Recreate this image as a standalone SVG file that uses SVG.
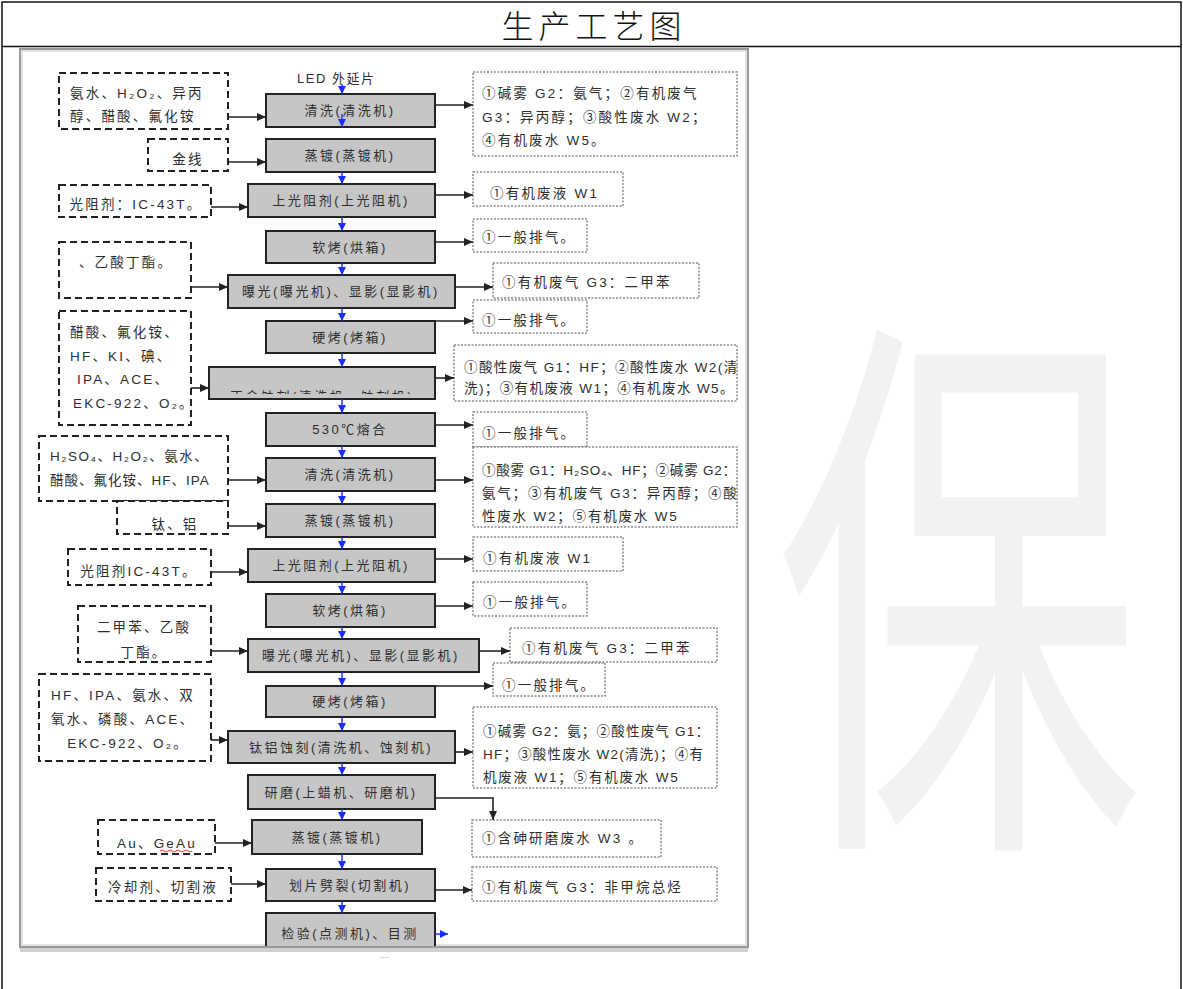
<svg xmlns="http://www.w3.org/2000/svg" width="1183" height="989" viewBox="0 0 1183 989">
<style>
.wm{font-family:"Noto Sans CJK SC",sans-serif;fill:#f2f2f2;}
.title{font-family:"Noto Sans CJK SC","Liberation Sans",sans-serif;font-size:32px;font-weight:300;fill:#111;letter-spacing:5px;}
.box rect{fill:#c6c6c6;stroke:#222;stroke-width:2;}
.box text{font-family:"Liberation Sans","Noto Sans CJK SC",sans-serif;font-size:13px;fill:#2e2e2e;letter-spacing:2.5px;text-anchor:middle;}
.in rect{fill:#fff;stroke:#222;stroke-width:2;stroke-dasharray:7 4;}
.out rect{fill:#fff;stroke:#8a8a8a;stroke-width:1.5;stroke-dasharray:2 1.5;}
.t{font-family:"Liberation Sans","Noto Sans CJK SC",sans-serif;font-size:13.5px;fill:#2e2e2e;letter-spacing:2.2px;}
.o{letter-spacing:1.8px;}
.c{text-anchor:middle;}
.blk{stroke:#222;stroke-width:1.6;fill:none;marker-end:url(#ab);}
.blu{stroke:#1a2cff;stroke-width:1.4;fill:none;marker-end:url(#au);}
</style>
<defs>
<marker id="ab" markerWidth="9" markerHeight="8" refX="9" refY="4" orient="auto" markerUnits="userSpaceOnUse"><path d="M0,0 L9,4 L0,8 z" fill="#222"/></marker>
<marker id="au" markerWidth="8" markerHeight="8" refX="8" refY="4" orient="auto" markerUnits="userSpaceOnUse"><path d="M0,0 L8,4 L0,8 z" fill="#1a2cff"/></marker>
<clipPath id="clip7"><rect x="209" y="367" width="226" height="27"/></clipPath>
</defs>
<rect width="1183" height="989" fill="#fff"/>
<!-- watermark -->
<g id="watermark">
<text class="wm" font-size="400" transform="translate(775,805) scale(0.92,1.42)">保</text>
</g>
<!-- table frame -->
<g id="table" fill="none" stroke="#111" stroke-width="1.5">
<rect x="2" y="2" width="1179" height="995"/>
<line x1="2" y1="46.5" x2="1181" y2="46.5"/>
</g>
<text class="title" x="594" y="38" text-anchor="middle">生产工艺图</text>
<!-- picture frame -->
<g id="frame">
<rect x="20" y="49" width="728" height="898" fill="#fff" stroke="#9a9a9a" stroke-width="2"/>
<rect x="22" y="51" width="724" height="894" fill="none" stroke="#e2e2e2" stroke-width="2"/>
<line x1="20" y1="950" x2="748" y2="950" stroke="#d0d0d0" stroke-width="4"/>
<text x="380" y="958" font-family="Liberation Sans,sans-serif" font-size="8" fill="#888">....</text>
</g>
<text class="t" x="297" y="83" style="font-size:13px;letter-spacing:1.5px">LED 外延片</text>
<!-- process nodes -->
<g id="n1" class="box"><rect x="266" y="94" width="169" height="33"/><text x="350" y="115">清洗(清洗机)</text></g>
<g id="n2" class="box"><rect x="266" y="139" width="169" height="33"/><text x="350" y="160">蒸镀(蒸镀机)</text></g>
<g id="n3" class="box"><rect x="248" y="184" width="187" height="33"/><text x="341" y="205">上光阻剂(上光阻机)</text></g>
<g id="n4" class="box"><rect x="266" y="231" width="169" height="32"/><text x="350" y="252">软烤(烘箱)</text></g>
<g id="n5" class="box"><rect x="228" y="275" width="227" height="33"/><text x="341" y="296">曝光(曝光机)、显影(显影机)</text></g>
<g id="n6" class="box"><rect x="266" y="321" width="169" height="32"/><text x="350" y="342">硬烤(烤箱)</text></g>
<g id="n7" class="box"><rect x="209" y="367" width="226" height="32"/><text x="322" y="401" clip-path="url(#clip7)">正金蚀刻(清洗机、蚀刻机)</text></g>
<g id="n8" class="box"><rect x="266" y="413" width="169" height="33"/><text x="350" y="434">530℃熔合</text></g>
<g id="n9" class="box"><rect x="266" y="458" width="169" height="33"/><text x="350" y="479">清洗(清洗机)</text></g>
<g id="n10" class="box"><rect x="266" y="504" width="169" height="33"/><text x="350" y="525">蒸镀(蒸镀机)</text></g>
<g id="n11" class="box"><rect x="248" y="549" width="187" height="33"/><text x="341" y="570">上光阻剂(上光阻机)</text></g>
<g id="n12" class="box"><rect x="266" y="594" width="169" height="33"/><text x="350" y="615">软烤(烘箱)</text></g>
<g id="n13" class="box"><rect x="248" y="639" width="231" height="33"/><text x="361" y="660">曝光(曝光机)、显影(显影机)</text></g>
<g id="n14" class="box"><rect x="266" y="686" width="169" height="31"/><text x="350" y="706">硬烤(烤箱)</text></g>
<g id="n15" class="box"><rect x="228" y="731" width="227" height="32"/><text x="341" y="752">钛铝蚀刻(清洗机、蚀刻机)</text></g>
<g id="n16" class="box"><rect x="248" y="775" width="187" height="34"/><text x="341" y="797">研磨(上蜡机、研磨机)</text></g>
<g id="n17" class="box"><rect x="252" y="820" width="170" height="34"/><text x="337" y="842">蒸镀(蒸镀机)</text></g>
<g id="n18" class="box"><rect x="266" y="869" width="169" height="32"/><text x="350" y="890">划片劈裂(切割机)</text></g>
<g id="n19" class="box"><path d="M266,946 V913 H435 V946" fill="#c6c6c6" stroke="#222" stroke-width="2"/><text x="350" y="938">检验(点测机)、目测</text></g>
<!-- input materials -->
<g id="in1" class="in"><rect x="59" y="73" width="169" height="56"/><text class="t" x="70" y="98">氨水、H₂O₂、异丙</text><text class="t" x="70" y="121">醇、醋酸、氟化铵</text></g>
<g id="in2" class="in"><rect x="148" y="139" width="80" height="32"/><text class="t c" x="188" y="164">金线</text></g>
<g id="in3" class="in"><rect x="59" y="185" width="152" height="32"/><text class="t c" x="136" y="209">光阻剂：IC-43T。</text></g>
<g id="in4" class="in"><rect x="59" y="242" width="132" height="56"/><text class="t c" x="126" y="267">、乙酸丁酯。</text></g>
<g id="in5" class="in"><rect x="59" y="311" width="132" height="114"/><text class="t" x="70" y="337">醋酸、氟化铵、</text><text class="t" x="70" y="361">HF、KI、碘、</text><text class="t" x="77" y="384">IPA、ACE、</text><text class="t" x="73" y="408">EKC-922、O₂。</text></g>
<g id="in6" class="in"><rect x="39" y="436" width="189" height="65"/><text class="t" x="50" y="461" style="letter-spacing:1.5px">H₂SO₄、H₂O₂、氨水、</text><text class="t" x="50" y="485" style="letter-spacing:1px">醋酸、氟化铵、HF、IPA</text></g>
<g id="in7" class="in"><rect x="117" y="501" width="111" height="33"/><text class="t c" x="175" y="529">钛、铝</text></g>
<g id="in8" class="in"><rect x="68" y="549" width="143" height="36"/><text class="t c" x="139" y="576">光阻剂IC-43T。</text></g>
<g id="in9" class="in"><rect x="78" y="606" width="133" height="56"/><text class="t c" x="144" y="632">二甲苯、乙酸</text><text class="t c" x="144" y="657">丁酯。</text></g>
<g id="in10" class="in"><rect x="39" y="674" width="172" height="87"/><text class="t" x="51" y="700">HF、IPA、氨水、双</text><text class="t" x="51" y="724">氧水、磷酸、ACE、</text><text class="t c" x="128" y="748">EKC-922、O₂。</text></g>
<g id="in11" class="in"><rect x="98" y="820" width="117" height="34"/><text class="t c" x="157" y="848">Au、GeAu</text><path d="M160,851 q2,-2 4,0 t4,0 t4,0 t4,0 t4,0 t4,0 t4,0 t4,0" fill="none" stroke="#e03030" stroke-width="1"/></g>
<g id="in12" class="in"><rect x="96" y="868" width="135" height="33"/><text class="t c" x="163" y="892">冷却剂、切割液</text></g>
<!-- outputs -->
<g id="out1" class="out"><rect x="473" y="72" width="264" height="84"/><text class="t" x="482" y="98">①碱雾 G2：氨气；②有机废气</text><text class="t" x="482" y="122">G3：异丙醇；③酸性废水 W2；</text><text class="t" x="482" y="145">④有机废水 W5。</text></g>
<g id="out2" class="out"><rect x="473" y="172" width="150" height="34"/><text class="t" x="490" y="198">①有机废液 W1</text></g>
<g id="out3" class="out"><rect x="473" y="219" width="114" height="33"/><text class="t" x="482" y="242">①一般排气。</text></g>
<g id="out4" class="out"><rect x="493" y="263" width="206" height="35"/><text class="t" x="502" y="287">①有机废气 G3：二甲苯</text></g>
<g id="out5" class="out"><rect x="473" y="300" width="114" height="33"/><text class="t" x="482" y="325">①一般排气。</text></g>
<g id="out6" class="out"><rect x="454" y="345" width="283" height="56"/><text class="t o" x="464" y="372" style="letter-spacing:1.4px">①酸性废气 G1：HF；②酸性废水 W2(清</text><text class="t o" x="464" y="393" style="letter-spacing:1.4px">洗)；③有机废液 W1；④有机废水 W5。</text></g>
<g id="out7" class="out"><rect x="473" y="412" width="114" height="35"/><text class="t" x="482" y="438">①一般排气。</text></g>
<g id="out8" class="out"><rect x="473" y="447" width="264" height="80"/><text class="t" x="482" y="475" style="letter-spacing:0.8px">①酸雾 G1：H₂SO₄、HF；②碱雾 G2：</text><text class="t o" x="482" y="498">氨气；③有机废气 G3：异丙醇；④酸</text><text class="t o" x="482" y="521">性废水 W2；⑤有机废水 W5</text></g>
<g id="out9" class="out"><rect x="473" y="537" width="150" height="34"/><text class="t" x="483" y="563">①有机废液 W1</text></g>
<g id="out10" class="out"><rect x="473" y="582" width="114" height="34"/><text class="t" x="483" y="607">①一般排气。</text></g>
<g id="out11" class="out"><rect x="510" y="628" width="207" height="34"/><text class="t" x="522" y="653">①有机废气 G3：二甲苯</text></g>
<g id="out12" class="out"><rect x="493" y="663" width="112" height="33"/><text class="t" x="502" y="690">①一般排气。</text></g>
<g id="out13" class="out"><rect x="473" y="707" width="244" height="81"/><text class="t" x="483" y="736" style="letter-spacing:1.2px">①碱雾 G2：氨；②酸性废气 G1：</text><text class="t" x="483" y="759" style="letter-spacing:1.2px">HF；③酸性废水 W2(清洗)；④有</text><text class="t o" x="483" y="782">机废液 W1；⑤有机废水 W5</text></g>
<g id="out14" class="out"><rect x="472" y="820" width="189" height="37"/><text class="t" x="482" y="843">①含砷研磨废水 W3  。</text></g>
<g id="out15" class="out"><rect x="472" y="867" width="245" height="34"/><text class="t" x="482" y="892">①有机废气 G3：非甲烷总烃</text></g>
<!-- connectors -->
<g id="connectors">
<path class="blu" d="M342,84 V94"/>
<path class="blu" d="M342,114 V127"/>
<path class="blu" d="M342,172 V184"/>
<path class="blu" d="M342,217 V231"/>
<path class="blu" d="M342,263 V275"/>
<path class="blu" d="M342,308 V321"/>
<path class="blu" d="M342,353 V367"/>
<path class="blu" d="M342,399 V413"/>
<path class="blu" d="M342,446 V458"/>
<path class="blu" d="M342,491 V504"/>
<path class="blu" d="M342,537 V549"/>
<path class="blu" d="M342,582 V594"/>
<path class="blu" d="M342,627 V639"/>
<path class="blu" d="M342,672 V686"/>
<path class="blu" d="M342,717 V731"/>
<path class="blu" d="M342,763 V775"/>
<path class="blu" d="M342,809 V820"/>
<path class="blu" d="M342,854 V869"/>
<path class="blu" d="M342,901 V913"/>
<path class="blu" d="M435,934 H448"/>
<path class="blk" d="M228,117 H266"/>
<path class="blk" d="M228,162 H266"/>
<path class="blk" d="M211,207 H248"/>
<path class="blk" d="M191,287 H228"/>
<path class="blk" d="M191,388 H209"/>
<path class="blk" d="M228,480 H266"/>
<path class="blk" d="M228,526 H266"/>
<path class="blk" d="M211,572 H248"/>
<path class="blk" d="M211,651 H248"/>
<path class="blk" d="M211,740 H228"/>
<path class="blk" d="M215,843 H252"/>
<path class="blk" d="M231,884 H266"/>
<path class="blk" d="M435,105 H473"/>
<path class="blk" d="M435,195 H473"/>
<path class="blk" d="M435,242 H473"/>
<path class="blk" d="M455,287 H493"/>
<path class="blk" d="M435,321 H473"/>
<path class="blk" d="M435,378 H454"/>
<path class="blk" d="M435,425 H473"/>
<path class="blk" d="M435,480 H473"/>
<path class="blk" d="M435,559 H473"/>
<path class="blk" d="M435,606 H473"/>
<path class="blk" d="M479,651 H510"/>
<path class="blk" d="M435,686 H493"/>
<path class="blk" d="M455,752 H473"/>
<path class="blk" d="M435,798 H493 V820"/>
<path class="blk" d="M435,890 H472"/>
</g>
</svg>
